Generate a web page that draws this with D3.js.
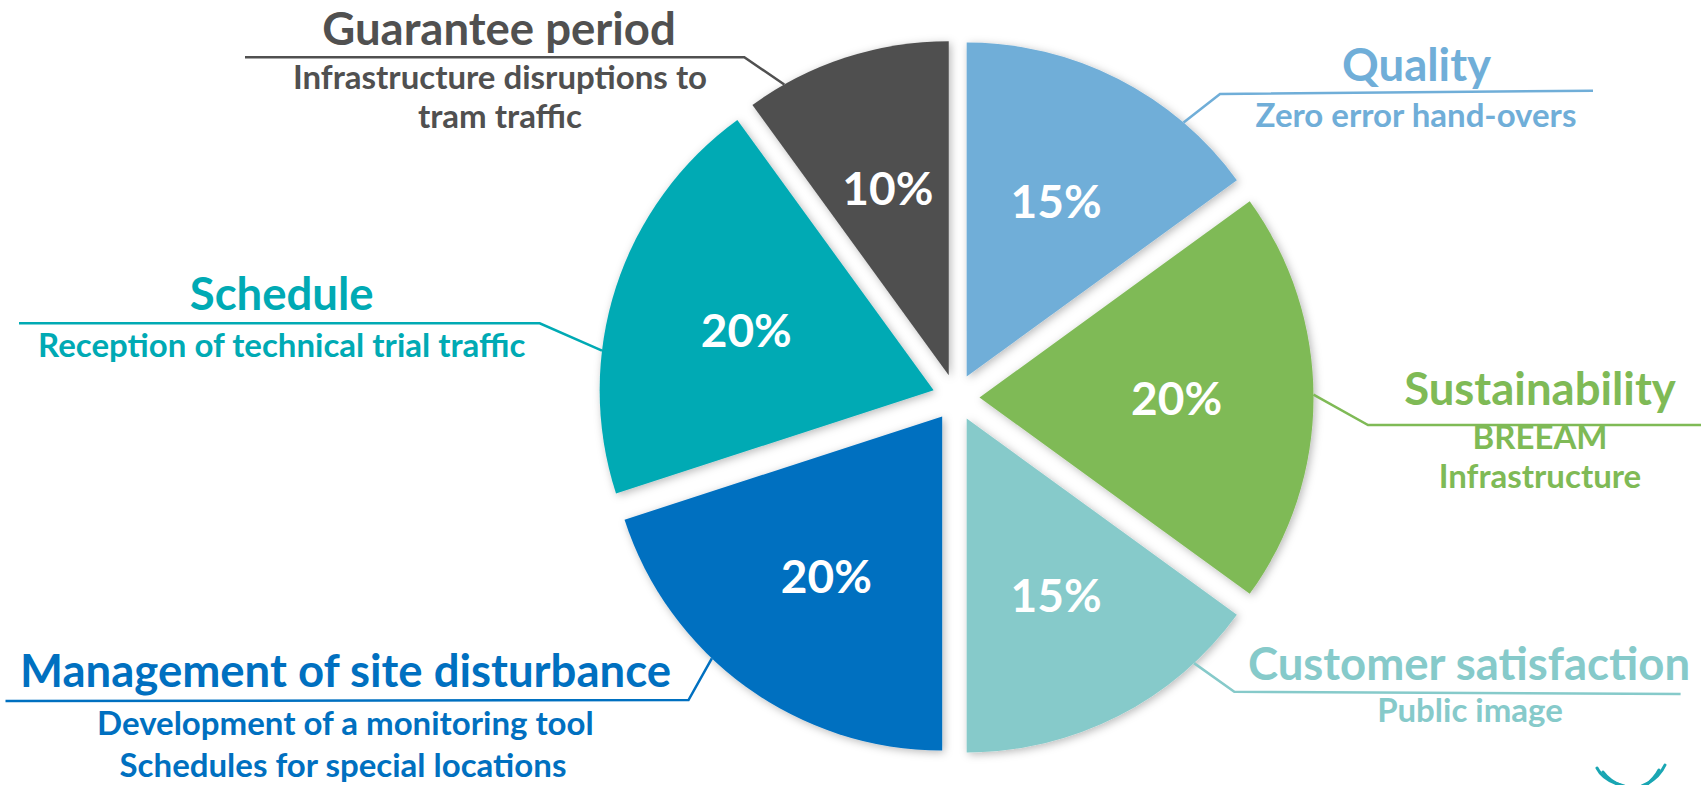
<!DOCTYPE html>
<html>
<head>
<meta charset="utf-8">
<script src="https://cdn.jsdelivr.net/npm/d3@7"></script>
<style>
  html, body { margin: 0; padding: 0; background: #ffffff; }
  svg { display: block; }
  text { font-family: 'Lato', 'Open Sans', sans-serif; font-weight: 700; }
</style>
</head>
<body>
<svg id="chart" width="1701" height="785"></svg>
<script>
// ---- Data ----
const categories = ["Quality", "Sustainability", "Customer satisfaction",
  "Management of site disturbance", "Schedule", "Guarantee period"];
const values = [15, 20, 15, 20, 20, 10];
const subtitles = [
  ["Zero error hand-overs"],
  ["BREEAM", "Infrastructure"],
  ["Public image"],
  ["Development of a monitoring tool", "Schedules for special locations"],
  ["Reception of technical trial traffic"],
  ["Infrastructure disruptions to", "tram traffic"]
];

// ---- Styles ----
const colors = ["#70AED8", "#7FBA56", "#86CACA", "#0070C0", "#00AAB4", "#505050"];

// ---- Layout of callouts (annotation placement) ----
const callouts = [
  { angle: 40.5,  line: [[1220, 94], [1593, 90.7]],   title: [1416.6, 81],  subs: [[1416, 126.7]] },
  { angle: 89.5,  line: [[1368, 425], [1701, 425]],   title: [1540, 405],   subs: [[1540, 449.3], [1540, 488.3]] },
  { angle: 137.1, line: [[1234.3, 691.7], [1680.6, 694]], title: [1469, 680], subs: [[1470, 721.7]] },
  { angle: 223.6, line: [[688.5, 700], [5.5, 701]],   title: [345.5, 686.7], subs: [[345.4, 735], [343, 776.7]] },
  { angle: 276.8, line: [[539.7, 323.3], [19, 323.3]], title: [281.7, 310],  subs: [[281.8, 357.3]] },
  { angle: 330.5, line: [[744.3, 57.3], [245, 57.3]], title: [499, 45],     subs: [[500, 89.3], [500, 128.3]] }
];

const W = 1701, H = 785;
const cx = 956, cy = 397.5, R = 334, explode = 23.5;
const titleSize = 45.5, subSize = 33, pctSize = 46;

const svg = d3.select("#chart");

const defs = svg.append("defs");
const f = defs.append("filter").attr("id", "shadow")
  .attr("x", "-10%").attr("y", "-10%").attr("width", "120%").attr("height", "120%");
f.append("feDropShadow").attr("dx", 2).attr("dy", 2).attr("stdDeviation", 4)
  .attr("flood-color", "#000").attr("flood-opacity", 0.28);

const data = categories.map((c, i) => ({ name: c, value: values[i], i }));
const pie = d3.pie().value(d => d.value).sort(null).startAngle(0).endAngle(2 * Math.PI);
const arcs = pie(data);

const arc = d3.arc().innerRadius(0).outerRadius(R);
const labelArc = d3.arc().innerRadius(R * 0.59).outerRadius(R * 0.59);

function offsetOf(d) {
  const mid = (d.startAngle + d.endAngle) / 2;
  return [explode * Math.sin(mid), -explode * Math.cos(mid)];
}

const gPie = svg.append("g").attr("transform", `translate(${cx},${cy})`);

const slices = gPie.selectAll("g.slice").data(arcs).join("g")
  .attr("class", "slice")
  .attr("transform", d => { const o = offsetOf(d); return `translate(${o[0]},${o[1]})`; });

slices.append("path")
  .attr("d", arc)
  .attr("fill", d => colors[d.data.i])
  .attr("filter", "url(#shadow)");

slices.append("text")
  .attr("transform", d => `translate(${labelArc.centroid(d)})`)
  .attr("text-anchor", "middle")
  .attr("dominant-baseline", "central")
  .attr("fill", "#ffffff")
  .attr("font-size", pctSize)
  .text(d => d.data.value + "%");

// ---- Callouts ----
const gLab = svg.append("g");
arcs.forEach(d => {
  const i = d.data.i;
  const c = callouts[i];
  const o = offsetOf(d);
  const a = c.angle * Math.PI / 180;
  const start = [cx + o[0] + R * Math.sin(a), cy + o[1] - R * Math.cos(a)];
  const pts = [start, c.line[0], c.line[1]];
  gLab.append("path")
    .attr("d", d3.line()(pts))
    .attr("fill", "none")
    .attr("stroke", colors[i])
    .attr("stroke-width", 2.5);
  gLab.append("text")
    .attr("x", c.title[0]).attr("y", c.title[1])
    .attr("text-anchor", "middle")
    .attr("font-size", titleSize)
    .attr("fill", colors[i])
    .text(d.data.name);
  subtitles[i].forEach((s, k) => {
    gLab.append("text")
      .attr("x", c.subs[k][0]).attr("y", c.subs[k][1])
      .attr("text-anchor", "middle")
      .attr("font-size", subSize)
      .attr("fill", colors[i])
      .text(s);
  });
});

// ---- small corner logo (partial, cut by the frame) ----
const logo = svg.append("g").attr("fill", "none").attr("stroke", "#1AA6B3").attr("stroke-width", 3).attr("stroke-linecap", "round");
logo.append("path").attr("d", "M1597,768 C1602,778 1612,783 1624,786");
logo.append("path").attr("d", "M1603,772 C1608,779 1615,783 1622,786");
logo.append("path").attr("d", "M1665,765 C1660,776 1652,782 1642,786");
logo.append("path").attr("d", "M1659,770 C1655,778 1650,782 1645,786");
</script>
</body>
</html>
